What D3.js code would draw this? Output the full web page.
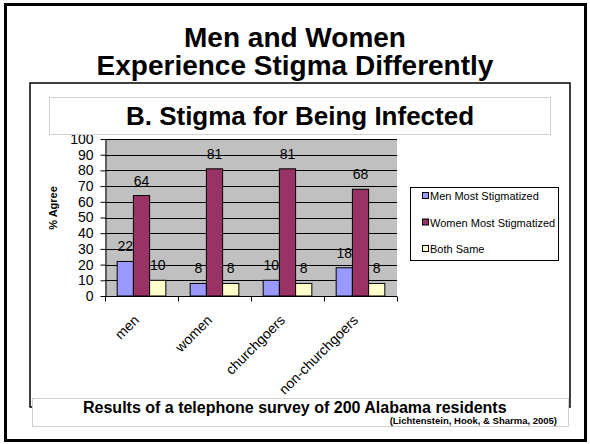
<!DOCTYPE html>
<html>
<head>
<meta charset="utf-8">
<script src="https://cdn.jsdelivr.net/npm/d3@7"></script>
<style>
  html, body { margin: 0; padding: 0; background: #fff; }
  svg { display: block; font-family: "Liberation Sans", Arial, sans-serif; }
</style>
</head>
<body>
<svg id="chart" width="590" height="444"></svg>
<script>
// Survey results: % agreeing with each statement, by respondent group
const categories = ["men", "women", "churchgoers", "non-churchgoers"];
const seriesNames = ["Men Most Stigmatized", "Women Most Stigmatized", "Both Same"];
const menMostStigmatized = [22, 8, 10, 18];
const womenMostStigmatized = [64, 81, 81, 68];
const bothSame = [10, 8, 8, 8];
const seriesColors = ["#9999FF", "#993366", "#FFFFCC"];
const yTicks = [0, 10, 20, 30, 40, 50, 60, 70, 80, 90, 100];

const titleLines = ["Men and Women", "Experience Stigma Differently"];
const subtitle = "B. Stigma for Being Infected";
const yAxisTitle = "% Agree";
const caption = "Results of a telephone survey of 200 Alabama residents";
const citation = "(Lichtenstein, Hook, & Sharma, 2005)";

const seriesValues = [menMostStigmatized, womenMostStigmatized, bothSame];
const rows = categories.map((c, i) => ({
  category: c,
  values: seriesNames.map((s, k) => ({ series: s, k, value: seriesValues[k][i] }))
}));

const svg = d3.select("#chart");

// slide frame
svg.append("rect")
  .attr("x", 5.5).attr("y", 4.5).attr("width", 580).attr("height", 436)
  .attr("fill", "#fff").attr("stroke", "#000").attr("stroke-width", 3);

// slide title
svg.append("g").selectAll("text").data(titleLines).join("text")
  .attr("x", 295).attr("y", (d, i) => 47 + i * 28)
  .attr("text-anchor", "middle")
  .attr("font-size", 28).attr("font-weight", "bold")
  .text(d => d);

// chart area
svg.append("rect")
  .attr("x", 30).attr("y", 83).attr("width", 540).attr("height", 324)
  .attr("fill", "#fff").attr("stroke", "#000").attr("stroke-width", 1.5);

// scales
const plot = { left: 105, right: 397, top: 139, bottom: 296 };
const x0 = d3.scaleBand().domain(categories).range([plot.left, plot.right]).padding(0);
const x1 = d3.scaleBand().domain(seriesNames).range([0, x0.bandwidth()])
  .paddingInner(0).paddingOuter(0.75);
const y = d3.scaleLinear().domain([0, 100]).range([plot.bottom, plot.top]);

// plot background
svg.append("rect")
  .attr("x", plot.left).attr("y", plot.top)
  .attr("width", plot.right - plot.left).attr("height", plot.bottom - plot.top)
  .attr("fill", "#C0C0C0");

// gridlines
svg.append("g").selectAll("line").data(yTicks.filter(t => t > 0)).join("line")
  .attr("x1", plot.left).attr("x2", plot.right)
  .attr("y1", d => Math.round(y(d)) + 0.5).attr("y2", d => Math.round(y(d)) + 0.5)
  .attr("stroke", "#000").attr("stroke-width", 1);

// bars
const groups = svg.append("g").selectAll("g").data(rows).join("g")
  .attr("transform", d => `translate(${x0(d.category)},0)`);

groups.selectAll("rect").data(d => d.values).join("rect")
  .attr("x", d => x1(d.series))
  .attr("y", d => y(d.value))
  .attr("width", x1.bandwidth())
  .attr("height", d => y(0) - y(d.value))
  .attr("fill", d => seriesColors[d.k])
  .attr("stroke", "#000").attr("stroke-width", 1);

// value labels
groups.selectAll("text").data(d => d.values).join("text")
  .attr("x", d => x1(d.series) + x1.bandwidth() / 2)
  .attr("y", d => y(d.value) - 10)
  .attr("text-anchor", "middle")
  .attr("font-size", 14)
  .text(d => d.value);

// y axis
const yAxis = svg.append("g")
  .attr("transform", `translate(${plot.left + 0.5},0)`)
  .call(d3.axisLeft(y).tickValues(yTicks).tickSize(5).tickPadding(7).tickSizeOuter(0));
yAxis.select(".domain").attr("stroke", "#000");
yAxis.selectAll(".tick line").attr("stroke", "#000");
yAxis.selectAll(".tick text")
  .attr("font-family", "Liberation Sans, Arial, sans-serif")
  .attr("font-size", 14).attr("fill", "#000");

// x axis
const xAxisY = Math.round(y(0)) + 0.5;
svg.append("line")
  .attr("x1", plot.left).attr("x2", plot.right)
  .attr("y1", xAxisY).attr("y2", xAxisY)
  .attr("stroke", "#000");
const bounds = categories.map(c => x0(c)).concat([x0.range()[1]]);
svg.append("g").selectAll("line").data(bounds).join("line")
  .attr("x1", d => Math.round(d) + 0.5).attr("x2", d => Math.round(d) + 0.5)
  .attr("y1", xAxisY).attr("y2", xAxisY + 5)
  .attr("stroke", "#000");
svg.append("g").selectAll("text").data(categories).join("text")
  .attr("transform", d => `translate(${x0(d) + x0.bandwidth() / 2 - 1.5},321) rotate(-45)`)
  .attr("text-anchor", "end")
  .attr("font-size", 14)
  .text(d => d);

// y axis title
svg.append("text")
  .attr("transform", "translate(57,208) rotate(-90)")
  .attr("text-anchor", "middle")
  .attr("font-size", 11).attr("font-weight", "bold")
  .text(yAxisTitle);

// chart title box
svg.append("rect")
  .attr("x", 49.5).attr("y", 97.5).attr("width", 501).attr("height", 37)
  .attr("fill", "#fff").attr("stroke", "#D0D0D0").attr("stroke-width", 1);
svg.append("text")
  .attr("x", 300).attr("y", 125)
  .attr("text-anchor", "middle")
  .attr("font-size", 26).attr("font-weight", "bold")
  .text(subtitle);

// legend
const legend = svg.append("g");
legend.append("rect")
  .attr("x", 410.5).attr("y", 187.5).attr("width", 148).attr("height", 73)
  .attr("fill", "#fff").attr("stroke", "#000").attr("stroke-width", 1);
const items = legend.selectAll("g.item").data(seriesNames).join("g")
  .attr("class", "item")
  .attr("transform", (d, i) => `translate(0,${196 + i * 26.5})`);
items.append("rect")
  .attr("x", 422.5).attr("y", -3.5).attr("width", 6).attr("height", 6)
  .attr("fill", (d, i) => seriesColors[i]).attr("stroke", "#000").attr("stroke-width", 1);
items.append("text")
  .attr("x", 430).attr("y", 4)
  .attr("font-size", 11)
  .text(d => d);

// caption box
svg.append("rect")
  .attr("x", 32.5).attr("y", 398.5).attr("width", 536).attr("height", 28)
  .attr("fill", "#fff").attr("stroke", "#D0D0D0").attr("stroke-width", 1);
svg.append("text")
  .attr("x", 83).attr("y", 413)
  .attr("font-size", 16).attr("font-weight", "bold")
  .text(caption);
svg.append("text")
  .attr("x", 557).attr("y", 424)
  .attr("text-anchor", "end")
  .attr("font-size", 9.5).attr("font-weight", "bold")
  .text(citation);
</script>
</body>
</html>
